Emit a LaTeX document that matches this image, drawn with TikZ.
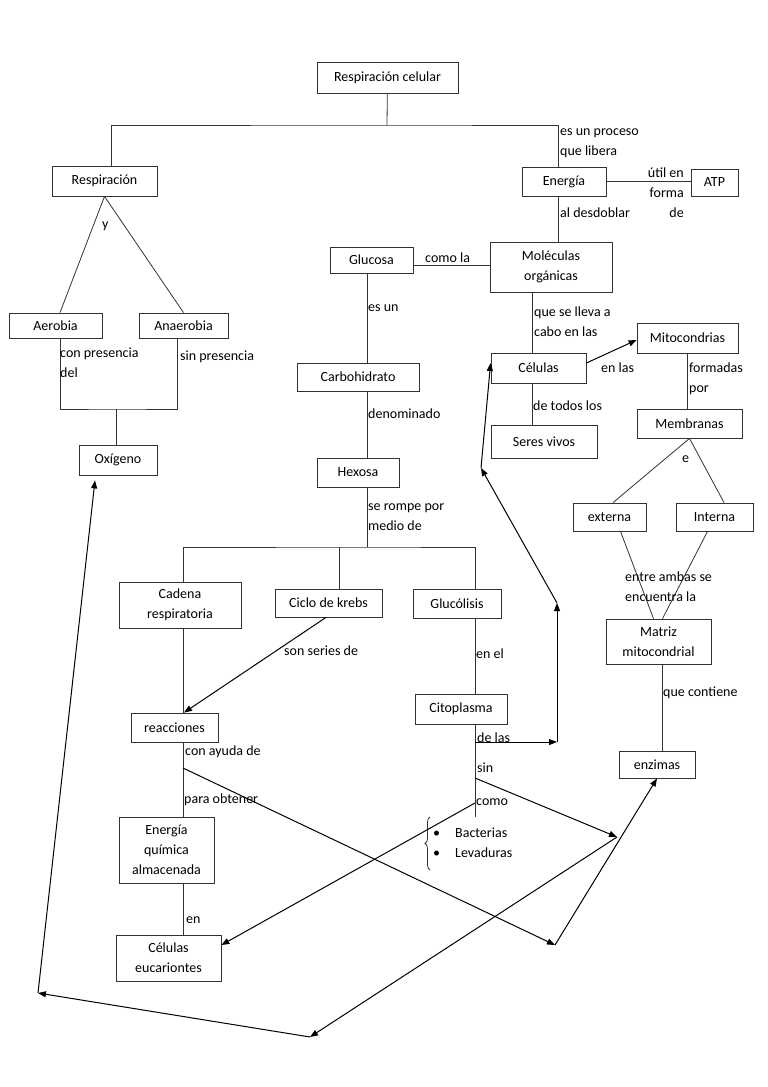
\documentclass[tikz,border=0pt]{standalone}
\usepackage{fontspec}
\setmainfont{Carlito}
\usetikzlibrary{arrows.meta, decorations.pathreplacing}

\begin{document}
\begin{tikzpicture}[x=1pt, y=-1pt,
    concept/.style={draw=black!80, line width=0.8pt, align=center, inner sep=0pt, font=\fontsize{14}{20}\selectfont},
    tag/.style={anchor=west, inner sep=0pt, align=left, font=\fontsize{14}{20}\selectfont},
    link/.style={draw=black!80, line width=0.8pt},
    flow/.style={draw=black, line width=1pt, -{Triangle[length=8pt,width=6pt]}}]
        \useasboundingbox (0,0) rectangle (768,1087);

        % concepts
        \node[concept, minimum width=141, minimum height=31] (cellresp) at (387.5,77.5) {Respiración celular};
        \node[concept, minimum width=105, minimum height=30] (respiracion) at (104.5,181) {Respiración};
        \node[concept, minimum width=84, minimum height=29] (energia) at (564,181.5) {Energía};
        \node[concept, minimum width=47, minimum height=27] (atp) at (714.5,182.5) {ATP};
        \node[concept, minimum width=122, minimum height=50] (moleculas) at (551,267) {Moléculas\\orgánicas};
        \node[concept, minimum width=83, minimum height=26] (glucosa) at (371.5,260) {Glucosa};
        \node[concept, minimum width=93, minimum height=25] (aerobia) at (55.5,325.5) {Aerobia};
        \node[concept, minimum width=89, minimum height=25] (anaerobia) at (183.5,325.5) {Anaerobia};
        \node[concept, minimum width=78, minimum height=30] (oxigeno) at (118,460) {Oxígeno};
        \node[concept, minimum width=122, minimum height=28] (carbohidrato) at (358,377) {Carbohidrato};
        \node[concept, minimum width=82, minimum height=29] (hexosa) at (358,472.5) {Hexosa};
        \node[concept, minimum width=95, minimum height=30] (celulas) at (538.5,368) {Células};
        \node[concept, minimum width=101, minimum height=30] (mitocondrias) at (687.5,338) {Mitocondrias};
        \node[concept, minimum width=105, minimum height=29] (membranas) at (689.5,423.5) {Membranas};
        \node[concept, minimum width=106, minimum height=33] (seres) at (544,441.5) {Seres vivos};
        \node[concept, minimum width=73, minimum height=28] (externa) at (609.5,517) {externa};
        \node[concept, minimum width=77, minimum height=28] (interna) at (714.5,517) {Interna};
        \node[concept, minimum width=122, minimum height=46] (cadena) at (180,605) {Cadena\\respiratoria};
        \node[concept, minimum width=107, minimum height=28] (krebs) at (328.5,603) {Ciclo de krebs};
        \node[concept, minimum width=88, minimum height=29] (glucolisis) at (457,603.5) {Glucólisis};
        \node[concept, minimum width=87, minimum height=29] (reacciones) at (174.5,727.5) {reacciones};
        \node[concept, minimum width=92, minimum height=30] (citoplasma) at (461,709) {Citoplasma};
        \node[concept, minimum width=105, minimum height=45] (matriz) at (658.5,641.5) {Matriz\\mitocondrial};
        \node[concept, minimum width=76, minimum height=27] (enzimas) at (657,764.5) {enzimas};
        \node[concept, minimum width=95, minimum height=66] (quimica) at (166.5,850) {Energía\\química\\almacenada};
        \node[concept, minimum width=105, minimum height=46] (eucariontes) at (168.5,958) {Células\\eucariontes};
        \node[tag] (lista) at (433,843) {\makebox[22pt][l]{\textbullet}Bacterias\\\makebox[22pt][l]{\textbullet}Levaduras};

        % joints and bends
        \coordinate (split) at (387,125);
        \coordinate (merge) at (116,409);
        \coordinate (bar) at (367,547);
        \coordinate (stem) at (475,817);
        \coordinate (deflas) at (475,742);
        \coordinate (sinfork) at (475,778);
        \coordinate (comofork) at (475,803);
        \coordinate (reacfork) at (183,768);
        \coordinate (w1) at (555,945);
        \coordinate (w2) at (617,837);
        \coordinate (w3) at (310,1037);
        \coordinate (w4) at (38,993);
        \coordinate (v1) at (557,742);
        \coordinate (v2) at (557,603);
        \coordinate (v3) at (481,468);

        % plain links
        \draw[link] (cellresp) -- (split);
        \draw[link] ([xshift=6.5]respiracion.north) |- (split) -| ([xshift=-6]energia.north);
        \draw[link] (energia.east) -- (energia.east -| atp.west);
        \draw[link] ([xshift=-6]energia.south) -- ([xshift=-6]energia.south |- moleculas.north);
        \draw[link] ([yshift=-5]glucosa.east) -- ([yshift=-5]glucosa.east -| moleculas.west);
        \draw[link] (respiracion.south) -- ([xshift=4.5]aerobia.north)
            (respiracion.south) -- (anaerobia.north);
        \draw[link] ([xshift=4.5]aerobia.south) |- (merge) -| ([xshift=-6.5]anaerobia.south);
        \draw[link] (merge) -- (merge |- oxigeno.north);
        \draw[link] ([xshift=-4.5]glucosa.south) -- ([xshift=-4.5]glucosa.south |- carbohidrato.north);
        \draw[link] ([xshift=9]carbohidrato.south) -- ([xshift=9]carbohidrato.south |- hexosa.north);
        \draw[link] ([xshift=9]hexosa.south) -- (bar);
        \draw[link] ([xshift=3]cadena.north) |- (bar) -| ([xshift=18]glucolisis.north);
        \draw[link] ([xshift=10.5]krebs.north) -- ([xshift=10.5]krebs.north |- bar);
        \draw[link] ([xshift=-19]moleculas.south) -- ([xshift=-19]moleculas.south |- celulas.north);
        \draw[link] ([xshift=-6.5]celulas.south) -- ([xshift=-6.5]celulas.south |- seres.north);
        \draw[link] (mitocondrias.south) -- (mitocondrias.south |- membranas.north);
        \draw[link] (membranas.south) -- ([xshift=3.5]externa.north)
            (membranas.south) -- ([xshift=9.5]interna.north);
        \draw[link] ([xshift=11]externa.south) -- ([xshift=-5]matriz.north)
            ([xshift=-7]interna.south) -- ([xshift=4]matriz.north);
        \draw[link] ([xshift=3.5]matriz.south) -- ([xshift=3.5]matriz.south |- enzimas.north);
        \draw[link] ([xshift=3]cadena.south) -- ([xshift=3]cadena.south |- reacciones.north);
        \draw[link] ([xshift=8.5]reacciones.south) -- ([xshift=8.5]reacciones.south |- quimica.north);
        \draw[link] ([xshift=16.5]quimica.south) -- ([xshift=16.5]quimica.south |- eucariontes.north);
        \draw[link] ([xshift=18]glucolisis.south) -- ([xshift=18]glucolisis.south |- citoplasma.north);
        \draw[link] ([xshift=14]citoplasma.south) -- (stem);
        \draw[link, decorate, decoration={brace, amplitude=5pt}] ([shift={(-3,27)}]lista.west) -- ([shift={(-3,-26)}]lista.west);

        % arrows
        \draw[flow] ([xshift=-2.5]krebs.south) -- ([xshift=9.5]reacciones.north);
        \draw[flow] ([yshift=5]celulas.east) -- ([yshift=-2]mitocondrias.west);
        \draw[flow] (reacfork) -- (w1);
        \draw[flow] (w1) -- (enzimas.south);
        \draw[flow] (sinfork) -- (w2);
        \draw[flow] (w2) -- (w3);
        \draw[flow] (w3) -- (w4);
        \draw[flow] (w4) -- ([shift={(-23,5)}]oxigeno.south);
        \draw[flow] (comofork) -- ([yshift=13]eucariontes.east);
        \draw[flow] (deflas) -- (v1);
        \draw[flow] (v1) -- (v2);
        \draw[flow] (v2) -- (v3);
        \draw[flow] (v3) -- ([yshift=5]celulas.west);

        % link words
        \node[tag] (l1) at (560,143) {es un proceso\\que libera};
        \node[tag, anchor=east, align=right] (l2) at (684,193) {útil en\\forma\\de};
        \node[tag] (l3) at (560,213) {al desdoblar};
        \node[tag] (l4) at (425,258) {como la};
        \node[tag] (l5) at (102,226) {y};
        \node[tag] (l6) at (60,363) {con presencia\\del};
        \node[tag] (l7) at (180,357) {sin presencia};
        \node[tag] (l8) at (368,308) {es un};
        \node[tag] (l9) at (534,322) {que se lleva a\\cabo en las};
        \node[tag] (l10) at (601,368) {en las};
        \node[tag] (l11) at (689,379) {formadas\\por};
        \node[tag] (l12) at (533,406) {de todos los};
        \node[tag] (l13) at (368,414) {denominado};
        \node[tag] (l14) at (682,459) {e};
        \node[tag] (l15) at (368,517) {se rompe por\\medio de};
        \node[tag] (l16) at (625,587) {entre ambas se\\encuentra la};
        \node[tag] (l17) at (284,651) {son series de};
        \node[tag] (l18) at (476,654) {en el};
        \node[tag] (l19) at (663,693) {que contiene};
        \node[tag] (l20) at (185,752) {con ayuda de};
        \node[tag] (l21) at (477,738) {de las};
        \node[tag] (l22) at (477,768) {sin};
        \node[tag] (l23) at (476,802) {como};
        \node[tag] (l24) at (184,800) {para obtener};
        \node[tag] (l25) at (186,920) {en};
\end{tikzpicture}
\end{document}
